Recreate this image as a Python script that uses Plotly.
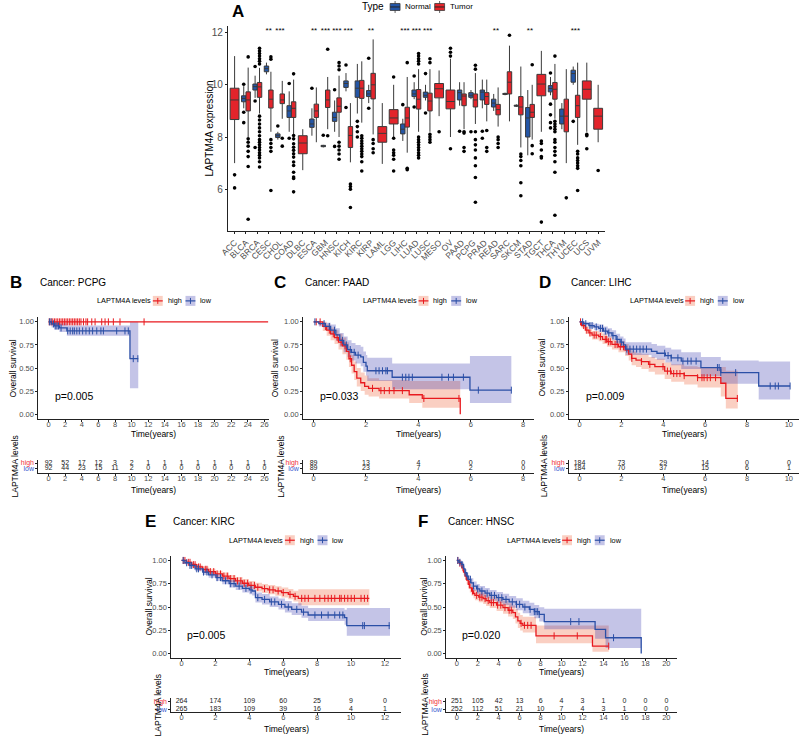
import plotly.graph_objects as go
import numpy as np

W, H = 800, 738
FONT = "Liberation Sans, Arial, sans-serif"

# ======================= Panel A data =======================
cancers = ["ACC", "BLCA", "BRCA", "CESC", "CHOL", "COAD", "DLBC", "ESCA", "GBM", "HNSC", "KICH",
           "KIRC", "KIRP", "LAML", "LGG", "LIHC", "LUAD", "LUSC", "MESO", "OV", "PAAD", "PCPG",
           "PRAD", "READ", "SARC", "SKCM", "STAD", "TGCT", "THCA", "THYM", "UCEC", "UCS", "UVM"]
N = None
normal_lo = [N, 9.1, 9.5, 10.4, 7.9, 8.2, N, 8.05, 7.6, 8.2, 9.75, 8.9, 9.3, N, N, 7.85, 9.45,
             9.4, N, N, 9.2, 9.45, 9.1, 9.0, 9.6, 9.15, 7.3, N, 9.6, 8.3, 10.0, N, N]
normal_q1 = [N, 9.35, 9.8, 10.5, 7.98, 8.75, N, 8.37, 7.63, 8.6, 9.9, 9.52, 9.55, N, N, 8.12, 9.55,
             9.52, N, N, 9.42, 9.52, 9.42, 9.15, 9.63, 9.18, 8.0, N, 9.73, 8.5, 10.1, N, N]
normal_med = [N, 9.48, 9.93, 10.62, 8.05, 9.0, N, 8.5, 7.65, 8.75, 10.05, 9.87, 9.65, N, N, 8.3, 9.65,
              9.6, N, N, 9.7, 9.6, 9.72, 9.3, 9.65, 9.2, 8.73, N, 9.86, 8.8, 10.43, N, N]
normal_q3 = [N, 9.58, 10.03, 10.72, 8.12, 9.2, N, 8.69, 7.68, 8.95, 10.15, 10.15, 9.78, N, N, 8.5, 9.8,
             9.72, N, N, 9.8, 9.7, 9.8, 9.45, 9.67, 9.22, 9.13, N, 9.97, 9.07, 10.56, N, N]
normal_hi = [N, 9.95, 10.35, 10.85, 8.2, 9.75, N, 9.1, 7.7, 9.4, 10.45, 10.8, 10.0, N, N, 8.7, 10.1,
             10.0, N, N, 10.1, 9.8, 10.2, 9.65, 9.7, 9.25, 9.8, N, 10.3, 9.3, 10.7, N, N]
normal_out = [[], [10.02, 8.95, 8.55], [10.7, 9.38, 7.6], [], [8.42], [10.05, 7.95], [], [9.87],
              [8.07], [9.81, 7.64], [10.76, 9.13], [8.6, 8.4, 8.2, 8.0], [11.02, 9.1], [], [], [9.24],
              [10.34, 9.15], [10.43, 8.92], [], [], [8.22], [8.2], [8.22, 7.95], [], [], [], [], [],
              [10.45, 9.26, 8.85, 8.55, 8.35], [], [8.6], [], []]

tumor_lo = [7.0, 8.0, 8.9, 8.2, 8.7, 8.1, 6.73, 7.8, 8.3, 8.0, 7.03, 8.55, 8.1, 6.97, 8.0, 7.4, 8.2,
            8.2, 8.8, 8.0, 8.3, 8.5, 8.6, 8.4, 8.6, 7.6, 7.9, 8.2, 8.7, 7.0, 7.7, 8.2, 7.8]
tumor_q1 = [8.67, 9.0, 9.52, 9.11, 9.28, 8.75, 7.36, 8.75, 9.13, 8.95, 7.6, 9.48, 9.46, 7.8, 8.5, 8.38,
            9.07, 9.0, 9.5, 9.08, 9.2, 9.15, 9.25, 8.85, 9.65, 8.85, 8.75, 9.58, 9.45, 8.2, 8.75, 9.45, 8.3]
tumor_med = [9.42, 9.42, 9.92, 9.45, 9.42, 9.1, 7.77, 9.0, 9.42, 9.18, 8.06, 9.87, 10.0, 8.14, 8.73, 8.73,
             9.45, 9.38, 9.85, 9.36, 9.57, 9.42, 9.55, 9.05, 10.1, 9.15, 8.95, 10.03, 9.83, 8.8, 9.2, 9.83, 8.8]
tumor_q3 = [9.87, 9.73, 10.09, 9.8, 9.65, 9.35, 8.05, 9.26, 9.8, 9.5, 8.4, 10.17, 10.44, 8.4, 9.05, 9.14,
            9.82, 9.68, 10.05, 9.8, 9.65, 9.65, 9.7, 9.25, 10.5, 9.55, 9.25, 10.4, 10.09, 9.45, 9.6, 10.15, 9.1]
tumor_hi = [11.1, 10.66, 10.65, 10.5, 10.15, 10.2, 8.3, 9.9, 10.3, 10.35, 9.3, 10.9, 11.74, 9.3, 10.0, 10.3,
            10.6, 10.6, 10.55, 11.0, 10.1, 10.45, 10.2, 9.9, 11.5, 10.7, 10.0, 11.3, 10.8, 10.6, 10.85, 10.85, 10.0]
tumor_out = [[6.55, 6.05],
             [11.07, 7.93, 7.8, 7.65, 7.45, 7.25, 6.87, 4.85],
             [11.4, 11.3, 11.2, 11.1, 11.0, 10.9, 10.8, 8.8, 8.65, 8.5, 8.35, 8.2, 8.05, 7.9, 7.8, 7.7,
              7.6, 7.5, 7.4, 7.3, 7.2, 7.05, 6.85],
             [11.07, 10.98, 7.9, 7.75, 7.6, 7.45, 5.95],
             [7.95, 7.65],
             [10.42, 8.06, 7.93, 7.74, 7.61, 7.49, 7.36, 7.23, 7.04, 6.91, 6.65, 6.47, 6.41, 5.9],
             [],
             [],
             [11.36, 8.05],
             [10.85, 10.72, 10.58, 7.8, 7.65, 7.5, 7.35, 7.15],
             [6.2, 6.1, 6.0, 5.3],
             [8.05, 7.95, 7.85, 7.75, 7.65, 7.55, 7.45, 7.35, 7.25, 7.05, 6.7],
             [7.9, 7.75, 7.55, 7.4],
             [],
             [10.3, 7.95, 7.5, 7.4, 7.3, 7.15, 6.7],
             [10.85, 6.8, 6.75],
             [11.2, 11.1, 11.0, 10.9, 10.8, 8.0, 7.9, 7.8, 7.7, 7.6, 7.5, 7.4, 7.3, 7.2],
             [11.0, 10.85, 8.1, 8.0, 7.9, 7.8],
             [8.2],
             [11.4, 11.25, 11.1, 7.55],
             [8.2, 8.15, 7.6, 7.45],
             [10.75, 10.6, 8.2, 7.9, 7.7, 7.5, 7.2, 6.9, 6.45, 5.5],
             [8.25, 7.6, 7.45],
             [8.0, 7.9, 7.75, 7.6],
             [11.9],
             [7.35, 7.25, 7.1, 6.9, 6.25, 5.75],
             [10.77, 7.67, 7.36],
             [7.85, 7.75, 7.5, 7.25, 7.2, 4.74],
             [11.1, 8.6, 8.5, 8.4, 8.3, 8.2, 7.9, 7.8, 7.6, 7.45, 7.3, 7.05, 6.65, 5.0],
             [5.67],
             [7.45, 7.35, 7.2, 7.1, 7.0, 6.9, 6.8, 5.95],
             [8.1, 8.05, 7.55],
             [6.72]]
stars = ["", "", "", "**", "***", "", "", "**", "***", "***", "***", "", "**", "", "", "***", "***",
         "***", "", "", "", "", "", "**", "", "", "**", "", "", "", "***", "", ""]
a_yticks = [6, 8, 10, 12]

# ======================= KM data =======================
# ---- PCPG ----
pcpg_high_t = [0]
pcpg_high_s = [1.0]
pcpg_high_lo = [1.0]
pcpg_high_hi = [1.0]
pcpg_high_end = 26.45
pcpg_high_cens = [0.08, 0.3, 0.5, 0.7, 0.9, 1.1, 1.3, 1.5, 1.7, 1.9, 2.1, 2.3, 2.5, 2.7, 2.9, 3.1,
                  3.3, 3.5, 3.7, 3.9, 4.2, 4.5, 4.7, 5.2, 5.6, 6.4, 6.8, 7.2, 7.8, 8.6, 11.5]
pcpg_low_t = [0, 0.35, 0.7, 1.3, 2.2, 9.8]
pcpg_low_s = [1.0, 0.978, 0.956, 0.934, 0.902, 0.601]
pcpg_low_lo = [1.0, 0.94, 0.915, 0.89, 0.85, 0.28]
pcpg_low_hi = [1.0, 1.0, 0.995, 0.985, 0.96, 1.0]
pcpg_low_end = 10.8
pcpg_low_cens = [0.1, 0.3, 0.6, 0.8, 1.0, 1.2, 1.5, 2.3, 2.6, 2.9, 3.1, 3.4, 3.7, 4.1, 4.5, 4.9,
                 5.3, 5.8, 6.3, 6.6, 8.2, 9.2, 9.6, 10.2, 10.75]
pcpg_risk_t = [0, 2, 4, 6, 8, 10, 12, 14, 16, 18, 20, 22, 24, 26]
pcpg_risk_high = [92, 52, 17, 12, 3, 2, 1, 1, 1, 1, 1, 1, 1, 1]
pcpg_risk_low = [92, 44, 23, 15, 11, 2, 0, 0, 0, 0, 0, 0, 0, 0]

# ---- PAAD ----
paad_high_t = [0, 0.35, 0.5, 0.65, 0.8, 0.95, 1.1, 1.25, 1.35, 1.45, 1.55, 1.65, 1.8, 1.95, 2.1, 2.5,
               3.65, 4.15, 5.6]
paad_high_s = [1.0, 0.95, 0.91, 0.87, 0.83, 0.78, 0.74, 0.68, 0.60, 0.53, 0.46, 0.39, 0.34, 0.30, 0.28,
               0.255, 0.21, 0.17, 0.0]
paad_high_lo = [1.0, 0.90, 0.85, 0.80, 0.76, 0.70, 0.65, 0.59, 0.51, 0.44, 0.37, 0.30, 0.25, 0.21, 0.19,
                0.17, 0.12, 0.07, 0.0]
paad_high_hi = [1.0, 1.0, 0.97, 0.94, 0.91, 0.87, 0.83, 0.78, 0.71, 0.64, 0.57, 0.50, 0.45, 0.42, 0.39,
                0.37, 0.36, 0.36, 0.0]
paad_high_end = 5.6
paad_high_cens = [0.1, 0.25, 0.45, 0.6, 0.75, 0.9, 1.05, 1.2, 1.4, 2.25, 2.57, 2.7, 2.89, 3.07, 3.39,
                  4.21, 5.55]
paad_low_t = [0, 0.2, 0.45, 0.65, 0.85, 1.0, 1.15, 1.3, 1.45, 1.6, 1.8, 1.9, 2.0, 2.05, 3.0, 5.97]
paad_low_s = [1.0, 0.98, 0.95, 0.91, 0.86, 0.80, 0.75, 0.70, 0.67, 0.64, 0.62, 0.56, 0.52, 0.47, 0.40, 0.26]
paad_low_lo = [1.0, 0.95, 0.91, 0.86, 0.80, 0.73, 0.67, 0.62, 0.58, 0.55, 0.52, 0.46, 0.42, 0.36, 0.27, 0.12]
paad_low_hi = [1.0, 1.0, 0.99, 0.97, 0.93, 0.88, 0.84, 0.80, 0.77, 0.75, 0.73, 0.68, 0.64, 0.61, 0.55, 0.63]
paad_low_end = 7.55
paad_low_cens = [0.05, 0.4, 0.6, 0.8, 1.1, 1.25, 1.4, 1.55, 1.7, 2.38, 2.5, 2.63, 2.76, 2.82, 3.39, 3.52,
                 3.64, 3.77, 4.9, 5.15, 5.34, 5.72, 6.29, 7.55]
paad_risk_t = [0, 2, 4, 6, 8]
paad_risk_high = [89, 13, 4, 0, 0]
paad_risk_low = [89, 23, 7, 2, 0]

# ---- LIHC ----
lihc_high_t = [0, 0.1, 0.28, 0.45, 0.6, 0.92, 1.1, 1.31, 1.55, 1.86, 2.18, 2.35, 2.49, 2.7, 2.96, 3.3,
               3.6, 4.07, 4.38, 5.0, 5.64, 6.75, 6.99]
lihc_high_s = [1.0, 0.96, 0.91, 0.88, 0.857, 0.84, 0.81, 0.785, 0.755, 0.73, 0.695, 0.65, 0.604, 0.585,
               0.57, 0.54, 0.514, 0.467, 0.44, 0.417, 0.395, 0.335, 0.17]
lihc_high_lo = [1.0, 0.93, 0.87, 0.84, 0.81, 0.79, 0.76, 0.73, 0.70, 0.67, 0.63, 0.58, 0.53, 0.51, 0.49,
                0.46, 0.43, 0.38, 0.35, 0.32, 0.29, 0.19, 0.06]
lihc_high_hi = [1.0, 0.99, 0.95, 0.92, 0.90, 0.89, 0.87, 0.84, 0.81, 0.79, 0.76, 0.72, 0.68, 0.66, 0.65,
                0.62, 0.60, 0.56, 0.54, 0.52, 0.51, 0.51, 0.47]
lihc_high_end = 7.56
lihc_high_cens = [0.05, 0.2, 0.35, 0.5, 0.7, 0.8, 1.0, 1.23, 1.3, 1.38, 1.47, 1.7, 1.8, 1.95, 2.1, 2.5,
                  2.96, 3.36, 3.99, 4.2, 4.35, 4.5, 4.65, 4.8, 5.0, 5.64, 5.85, 5.95, 6.1, 6.25, 6.5, 7.54]
lihc_low_t = [0, 0.2, 0.45, 0.7, 0.92, 1.15, 1.35, 1.55, 1.75, 1.94, 2.1, 2.2, 3.44, 3.7, 4.1, 4.38,
              4.86, 5.8, 6.75, 8.56]
lihc_low_s = [1.0, 0.98, 0.96, 0.945, 0.93, 0.90, 0.88, 0.85, 0.81, 0.78, 0.75, 0.705, 0.68, 0.66, 0.635,
              0.61, 0.575, 0.505, 0.45, 0.305]
lihc_low_lo = [1.0, 0.96, 0.93, 0.91, 0.89, 0.86, 0.83, 0.80, 0.76, 0.72, 0.69, 0.64, 0.61, 0.59, 0.56,
               0.53, 0.49, 0.41, 0.33, 0.16]
lihc_low_hi = [1.0, 1.0, 0.99, 0.98, 0.97, 0.95, 0.93, 0.91, 0.87, 0.84, 0.82, 0.78, 0.76, 0.74, 0.72,
               0.70, 0.67, 0.62, 0.58, 0.57]
lihc_low_end = 10.06
lihc_low_cens = [0.15, 0.3, 0.5, 0.6, 0.8, 1.0, 1.1, 1.25, 1.4, 1.6, 1.8, 2.0, 2.26, 2.41, 2.57, 2.73,
                 2.89, 3.04, 3.2, 4.07, 4.23, 4.38, 4.7, 4.94, 5.17, 5.33, 5.57, 6.59, 6.67, 6.75, 7.46,
                 9.11, 9.35, 9.5, 10.06]
lihc_risk_t = [0, 2, 4, 6, 8, 10]
lihc_risk_high = [184, 73, 29, 14, 0, 0]
lihc_risk_low = [184, 70, 37, 15, 6, 1]

# ---- KIRC ----
kirc_high_t = [0, 0.3, 0.6, 0.9, 1.25, 1.6, 2.0, 2.42, 2.8, 3.19, 3.6, 3.97, 4.35, 4.75, 5.1, 5.53, 5.9,
               6.3, 6.6, 6.89]
kirc_high_s = [1.0, 0.98, 0.955, 0.93, 0.905, 0.88, 0.855, 0.832, 0.805, 0.78, 0.755, 0.732, 0.712, 0.697,
               0.685, 0.672, 0.655, 0.636, 0.615, 0.593]
kirc_high_lo = [1.0, 0.965, 0.935, 0.905, 0.875, 0.848, 0.82, 0.795, 0.765, 0.74, 0.712, 0.688, 0.666,
                0.65, 0.636, 0.622, 0.603, 0.582, 0.558, 0.52]
kirc_high_hi = [1.0, 0.995, 0.975, 0.955, 0.935, 0.912, 0.89, 0.87, 0.845, 0.822, 0.8, 0.778, 0.76, 0.746,
                0.736, 0.724, 0.709, 0.692, 0.674, 0.69]
kirc_high_end = 11.08
kirc_high_cens = [0.1, 0.2, 0.4, 0.5, 0.7, 0.8, 1.0, 1.1, 1.4, 1.5, 1.7, 1.9, 2.1, 2.3, 2.5, 2.7, 2.9,
                  3.1, 3.3, 3.5, 3.7, 3.9, 4.1, 4.3, 4.5, 4.9, 5.2, 5.4, 5.7, 6.0, 6.4, 6.7, 7.09, 7.28,
                  7.48, 7.87, 8.16, 8.45, 8.65, 8.84, 9.04, 9.33, 9.42, 9.62, 9.81, 10.01, 10.2, 10.59,
                  10.79, 10.98]
kirc_low_t = [0, 0.2, 0.47, 0.8, 1.25, 1.6, 2.03, 2.4, 2.81, 3.2, 3.59, 4.0, 4.17, 4.36, 4.75, 5.2, 5.72,
              6.1, 6.5, 7.08, 7.47, 9.62, 9.75]
kirc_low_s = [1.0, 0.975, 0.946, 0.91, 0.875, 0.845, 0.815, 0.782, 0.75, 0.725, 0.70, 0.685, 0.672, 0.60,
              0.582, 0.555, 0.529, 0.50, 0.475, 0.446, 0.414, 0.385, 0.30]
kirc_low_lo = [1.0, 0.96, 0.925, 0.885, 0.845, 0.813, 0.78, 0.745, 0.71, 0.683, 0.655, 0.638, 0.624,
               0.548, 0.528, 0.5, 0.472, 0.442, 0.415, 0.385, 0.35, 0.31, 0.19]
kirc_low_hi = [1.0, 0.99, 0.968, 0.937, 0.905, 0.878, 0.852, 0.822, 0.792, 0.77, 0.748, 0.735, 0.722,
               0.656, 0.64, 0.614, 0.59, 0.564, 0.54, 0.514, 0.49, 0.47, 0.49]
kirc_low_end = 12.3
kirc_low_cens = [0.1, 0.3, 0.5, 0.6, 0.9, 1.0, 1.3, 1.5, 1.8, 2.1, 2.3, 2.6, 2.9, 3.1, 3.4, 3.8, 4.1,
                 4.5, 4.9, 5.3, 5.5, 5.9, 6.3, 6.8, 7.2, 7.87, 8.26, 8.65, 9.04, 9.33, 9.52, 10.69,
                 10.79, 12.25]
kirc_risk_t = [0, 2, 4, 6, 8, 10, 12]
kirc_risk_high = [264, 174, 109, 60, 25, 9, 0]
kirc_risk_low = [265, 183, 109, 39, 16, 4, 1]

# ---- HNSC ----
hnsc_high_t = [0, 0.25, 0.48, 0.65, 0.79, 0.95, 1.1, 1.25, 1.42, 1.6, 1.73, 2.1, 2.52, 2.8, 3.15, 3.8,
               4.41, 4.9, 5.35, 5.6, 5.83, 6.05, 6.3, 7.56, 12.95]
hnsc_high_s = [1.0, 0.97, 0.921, 0.875, 0.832, 0.79, 0.743, 0.705, 0.672, 0.645, 0.625, 0.605, 0.589,
               0.568, 0.547, 0.52, 0.493, 0.465, 0.44, 0.395, 0.35, 0.325, 0.303, 0.19, 0.08]
hnsc_high_lo = [1.0, 0.95, 0.89, 0.84, 0.79, 0.745, 0.695, 0.655, 0.62, 0.593, 0.572, 0.55, 0.533, 0.51,
                0.488, 0.458, 0.428, 0.398, 0.37, 0.322, 0.275, 0.248, 0.225, 0.11, 0.02]
hnsc_high_hi = [1.0, 0.99, 0.955, 0.913, 0.876, 0.837, 0.795, 0.76, 0.728, 0.703, 0.685, 0.667, 0.652,
                0.633, 0.614, 0.59, 0.567, 0.54, 0.517, 0.478, 0.437, 0.415, 0.395, 0.30, 0.30]
hnsc_high_end = 14.5
hnsc_high_cens = [0.1, 0.3, 0.6, 0.9, 1.2, 1.5, 1.9, 2.2, 2.4, 2.7, 3.0, 3.3, 3.5, 3.9, 4.2, 4.6, 5.0,
                  5.2, 6.14, 6.46, 6.77, 7.09, 9.29, 11.5, 14.5]
hnsc_low_t = [0, 0.2, 0.48, 0.65, 0.79, 0.95, 1.1, 1.35, 1.58, 1.9, 2.2, 2.7, 3.15, 3.8, 4.41, 5.0, 5.67,
              6.3, 6.93, 7.4, 7.87, 8.35, 13.2, 14.2, 17.6]
hnsc_low_s = [1.0, 0.98, 0.957, 0.91, 0.868, 0.83, 0.796, 0.76, 0.725, 0.695, 0.672, 0.648, 0.625, 0.60,
              0.582, 0.555, 0.529, 0.50, 0.475, 0.45, 0.421, 0.343, 0.26, 0.17, 0.0]
hnsc_low_lo = [1.0, 0.96, 0.93, 0.875, 0.83, 0.79, 0.75, 0.71, 0.675, 0.643, 0.618, 0.593, 0.568, 0.541,
               0.522, 0.493, 0.465, 0.434, 0.405, 0.378, 0.345, 0.26, 0.16, 0.06, 0.0]
hnsc_low_hi = [1.0, 1.0, 0.985, 0.945, 0.905, 0.87, 0.842, 0.81, 0.775, 0.748, 0.726, 0.703, 0.682, 0.66,
               0.642, 0.617, 0.593, 0.566, 0.545, 0.522, 0.497, 0.48, 0.48, 0.48, 0.0]
hnsc_low_end = 17.6
hnsc_low_cens = [0.1, 0.3, 0.5, 0.8, 1.0, 1.3, 1.6, 2.0, 2.4, 2.9, 3.3, 3.6, 4.0, 4.3, 4.7, 5.3, 5.7,
                 6.0, 6.5, 7.0, 7.4, 7.56, 7.72, 7.87, 10.87, 11.66, 14.96]
hnsc_risk_t = [0, 2, 4, 6, 8, 10, 12, 14, 16, 18, 20]
hnsc_risk_high = [251, 105, 42, 13, 6, 4, 3, 1, 0, 0, 0]
hnsc_risk_low = [252, 112, 51, 21, 10, 7, 4, 3, 1, 0, 0]

# ======================= styling =======================
NORMAL_FILL = "#2456A6"
TUMOR_FILL = "#E3242B"
RED = "#E8191E"
BLUE = "#2B4FA6"
RED_BAND = "rgba(240,110,70,0.33)"
BLUE_BAND = "rgba(60,60,175,0.30)"
AXC = "#222222"
TICKC = "#4D4D4D"


def px(x):
    return x / W


def py(y):
    return 1 - y / H


layout = dict(width=W, height=H, margin=dict(l=0, r=0, t=0, b=0), paper_bgcolor="white",
              plot_bgcolor="white", showlegend=False, font=dict(family=FONT, color="black"))
shapes = []
annotations = []
traces = []
axn = [0]


def axstyle(size, **kw):
    d = dict(showline=True, linecolor=AXC, linewidth=1, ticks="outside", ticklen=2, tickwidth=1,
             tickcolor=AXC, showgrid=False, zeroline=False,
             tickfont=dict(family=FONT, size=size, color=TICKC), fixedrange=True)
    d.update(kw)
    return d


def new_axes(xd, yd, xr, yr, xkw, ykw):
    axn[0] += 1
    n = axn[0]
    s = "" if n == 1 else str(n)
    layout["xaxis" + s] = dict(domain=[px(xd[0]), px(xd[1])], range=xr, anchor="y" + s, **xkw)
    layout["yaxis" + s] = dict(domain=[py(yd[1]), py(yd[0])], range=yr, anchor="x" + s, **ykw)
    return "x" + s, "y" + s


def ann(text, x, y, size, color="black", xanchor="left", yanchor="middle", angle=0, bold=False):
    if bold:
        text = "<b>" + text + "</b>"
    annotations.append(dict(text=text, x=px(x), y=py(y), xref="paper", yref="paper", showarrow=False,
                            xanchor=xanchor, yanchor=yanchor, textangle=angle,
                            font=dict(family=FONT, size=size, color=color)))


def rect(x0, y0, x1, y1, fill, line=None, lw=0.8):
    shapes.append(dict(type="rect", xref="paper", yref="paper", x0=px(x0), x1=px(x1), y0=py(y1), y1=py(y0),
                       fillcolor=fill, line=dict(color=line if line else fill, width=lw if line else 0)))


def seg(x0, y0, x1, y1, color, lw=1):
    shapes.append(dict(type="line", xref="paper", yref="paper", x0=px(x0), x1=px(x1), y0=py(y0), y1=py(y1),
                       line=dict(color=color, width=lw)))


# ======================= Panel A =======================
xa, ya = new_axes((222, 603), (25, 231), [-0.6, 32.6], [4.385, 12.256],
                  axstyle(8.5, tickvals=list(range(len(cancers))), ticktext=cancers, tickangle=-45),
                  axstyle(10, tickvals=a_yticks, ticktext=[str(v) for v in a_yticks]))

pn_x, pn = [], {"lo": [], "q1": [], "med": [], "q3": [], "hi": []}
pt_x, pt = [], {"lo": [], "q1": [], "med": [], "q3": [], "hi": []}
st_x, st = [], {"lo": [], "q1": [], "med": [], "q3": [], "hi": []}
out_x, out_y = [], []
for i, c in enumerate(cancers):
    if normal_med[i] is not None:
        xn, xt = i - 0.195, i + 0.195
        pn_x.append(xn)
        for k, arr in zip(["lo", "q1", "med", "q3", "hi"],
                          [normal_lo, normal_q1, normal_med, normal_q3, normal_hi]):
            pn[k].append(arr[i])
        pt_x.append(xt)
        for k, arr in zip(["lo", "q1", "med", "q3", "hi"], [tumor_lo, tumor_q1, tumor_med, tumor_q3, tumor_hi]):
            pt[k].append(arr[i])
        for v in normal_out[i]:
            out_x.append(xn); out_y.append(v)
    else:
        xt = i
        st_x.append(xt)
        for k, arr in zip(["lo", "q1", "med", "q3", "hi"], [tumor_lo, tumor_q1, tumor_med, tumor_q3, tumor_hi]):
            st[k].append(arr[i])
    for v in tumor_out[i]:
        out_x.append(xt); out_y.append(v)

for xs, d, fill, wdt in [(pn_x, pn, NORMAL_FILL, 0.39), (pt_x, pt, TUMOR_FILL, 0.39), (st_x, st, TUMOR_FILL, 0.78)]:
    traces.append(go.Box(x=xs, q1=d["q1"], median=d["med"], q3=d["q3"], lowerfence=d["lo"],
                         upperfence=d["hi"], width=wdt, fillcolor=fill, whiskerwidth=0,
                         line=dict(color="#3a3a3a", width=1), boxpoints=False, xaxis=xa, yaxis=ya,
                         hoverinfo="skip"))
traces.append(go.Scatter(x=out_x, y=out_y, mode="markers", marker=dict(color="black", size=3.6),
                         xaxis=xa, yaxis=ya, hoverinfo="skip"))
star_x = [i for i, s in enumerate(stars) if s]
star_t = [s for s in stars if s]
traces.append(go.Scatter(x=star_x, y=[12.08] * len(star_x), text=star_t, mode="text",
                         textfont=dict(family=FONT, size=8, color="black"), xaxis=xa, yaxis=ya,
                         hoverinfo="skip"))
ann("A", 232, 11, 17, bold=True, xanchor="center")
ann("LAPTM4A expression", 204, 128, 10, angle=-90, xanchor="center")
# legend A
ann("Type", 382, 6, 10, xanchor="right")
for x0, fill, label in [(386, NORMAL_FILL, "Normal"), (431, TUMOR_FILL, "Tumor")]:
    seg(x0 + 5, 0, x0 + 5, 12, "#3a3a3a", 0.8)
    rect(x0, 2.5, x0 + 10, 9.5, fill, "#3a3a3a", 0.8)
    seg(x0, 6, x0 + 10, 6, "#222", 1)
    ann(label, x0 + 13, 6, 8)


# ======================= KM panels =======================
def surv_at(t, s, c):
    idx = int(np.searchsorted(np.array(t), c, side="right")) - 1
    return s[max(idx, 0)]


def km_panel(letter, name, pval, xd, yd, xr, tick_t, hi_grp, lo_grp, risk_t, risk_h, risk_l,
             tab_yd, tab_yr, title_y, legend_y, legend_x, letter_x, ylab_x, tabtitle_x, pval_xy,
             time_y, risk_tick_y):
    xk, yk = new_axes(xd, yd, xr, [-0.05, 1.05],
                      axstyle(7.5, tickvals=tick_t, ticktext=[str(v) for v in tick_t],
                              ticklabelstandoff=-4),
                      axstyle(7.5, tickvals=[0, 0.25, 0.5, 0.75, 1.0],
                              ticktext=["0.00", "0.25", "0.50", "0.75", "1.00"]))
    for grp, band in [(hi_grp, RED_BAND), (lo_grp, BLUE_BAND)]:
        t, s, lo, hi, end, cens = grp
        xs = list(t) + [end]
        traces.append(go.Scatter(x=xs, y=list(lo) + [lo[-1]], mode="lines", line=dict(width=0, shape="hv"),
                                 xaxis=xk, yaxis=yk, hoverinfo="skip"))
        traces.append(go.Scatter(x=xs, y=list(hi) + [hi[-1]], mode="lines", line=dict(width=0, shape="hv"),
                                 fill="tonexty", fillcolor=band, xaxis=xk, yaxis=yk, hoverinfo="skip"))
    for grp, col in [(hi_grp, RED), (lo_grp, BLUE)]:
        t, s, lo, hi, end, cens = grp
        traces.append(go.Scatter(x=list(t) + [end], y=list(s) + [s[-1]], mode="lines",
                                 line=dict(color=col, width=1.3, shape="hv"), xaxis=xk, yaxis=yk,
                                 hoverinfo="skip"))
        traces.append(go.Scatter(x=cens, y=[surv_at(t, s, c) for c in cens], mode="markers",
                                 marker=dict(symbol="line-ns", size=5, line=dict(color=col, width=1)),
                                 xaxis=xk, yaxis=yk, hoverinfo="skip"))
    # risk table
    xt_, yt_ = new_axes(xd, tab_yd, xr, tab_yr,
                        axstyle(7.5, tickvals=risk_t, ticktext=[str(v) for v in risk_t],
                                ticklabelstandoff=-4),
                        axstyle(7, tickvals=[0, 1],
                                ticktext=['<span style="color:%s">low</span>' % "#3B5BD0",
                                          '<span style="color:%s">high</span>' % "#F0303A"]))
    traces.append(go.Scatter(x=risk_t, y=[1] * len(risk_t), text=[str(v) for v in risk_h], mode="text",
                             textfont=dict(family=FONT, size=7, color="#222"), xaxis=xt_, yaxis=yt_,
                             hoverinfo="skip", cliponaxis=False))
    traces.append(go.Scatter(x=risk_t, y=[0] * len(risk_t), text=[str(v) for v in risk_l], mode="text",
                             textfont=dict(family=FONT, size=7, color="#222"), xaxis=xt_, yaxis=yt_,
                             hoverinfo="skip", cliponaxis=False))
    # texts
    ann(letter, letter_x, title_y, 17, bold=True)
    ann("Cancer: " + name, xd[0], title_y, 10)
    xmid = (xd[0] + xd[1]) / 2
    ann("Time(years)", xmid, time_y, 8.5, xanchor="center")
    ann("Time(years)", xmid, risk_tick_y + 10, 8.5, xanchor="center")
    ann("Overall survival", ylab_x, (yd[0] + yd[1]) / 2, 8.5, angle=-90, xanchor="center")
    ann("LAPTM4A levels", tabtitle_x, (tab_yd[0] + tab_yd[1]) / 2, 8.5, angle=-90, xanchor="center")
    ann(pval, pval_xy[0], pval_xy[1], 10.5)
    # legend
    lx = legend_x
    ann("LAPTM4A levels", lx, legend_y, 7.3)
    kx = lx + 58
    for band, col, lab, w in [(RED_BAND, RED, "high", 14), (BLUE_BAND, BLUE, "low", 12)]:
        rect(kx, legend_y - 5, kx + 10, legend_y + 5, band)
        seg(kx, legend_y, kx + 10, legend_y, col, 1.2)
        seg(kx + 5, legend_y - 3, kx + 5, legend_y + 3, col, 1)
        ann(lab, kx + 13, legend_y, 7.3)
        kx += 13 + w + 6


top_yd = (317.1, 418.9)
bot_yd = (556.3, 659.0)
top_tab = (460.0, 473.7)
bot_tab = (699.0, 712.7)
top_tab_r = [-0.825, 1.58]
bot_tab_r = [-0.34, 1.375]

km_panel("B", "PCPG", "p=0.005", (30.7, 263.3), top_yd, [-1.23, 26.51], pcpg_risk_t,
         (pcpg_high_t, pcpg_high_s, pcpg_high_lo, pcpg_high_hi, pcpg_high_end, pcpg_high_cens),
         (pcpg_low_t, pcpg_low_s, pcpg_low_lo, pcpg_low_hi, pcpg_low_end, pcpg_low_cens),
         pcpg_risk_t, pcpg_risk_high, pcpg_risk_low, top_tab, top_tab_r,
         282, 300.7, 88.3, 0, 5.5, 7, (45, 395.7), 434, 480)
km_panel("C", "PAAD", "p=0.033", (298.1, 530.9), top_yd, [-0.4, 8.4], paad_risk_t,
         (paad_high_t, paad_high_s, paad_high_lo, paad_high_hi, paad_high_end, paad_high_cens),
         (paad_low_t, paad_low_s, paad_low_lo, paad_low_hi, paad_low_end, paad_low_cens),
         paad_risk_t, paad_risk_high, paad_risk_low, top_tab, top_tab_r,
         282, 300.7, 356.7, 267, 270, 275, (313, 395.7), 434, 480)
km_panel("D", "LIHC", "p=0.009", (566.7, 799.3), top_yd, [-0.5, 10.5], lihc_risk_t,
         (lihc_high_t, lihc_high_s, lihc_high_lo, lihc_high_hi, lihc_high_end, lihc_high_cens),
         (lihc_low_t, lihc_low_s, lihc_low_lo, lihc_low_hi, lihc_low_end, lihc_low_cens),
         lihc_risk_t, lihc_risk_high, lihc_risk_low, top_tab, top_tab_r,
         282, 300.7, 626, 534, 539, 541, (581.7, 395.7), 434, 480)
km_panel("E", "KIRC", "p=0.005", (165.0, 397.0), bot_yd, [-0.6, 12.95], kirc_risk_t,
         (kirc_high_t, kirc_high_s, kirc_high_lo, kirc_high_hi, kirc_high_end, kirc_high_cens),
         (kirc_low_t, kirc_low_s, kirc_low_lo, kirc_low_hi, kirc_low_end, kirc_low_cens),
         kirc_risk_t, kirc_risk_high, kirc_risk_low, bot_tab, bot_tab_r,
         522, 540.7, 221.7, 136, 142, 151, (179, 635.7), 673, 720)
km_panel("F", "HNSC", "p=0.020", (442.7, 675.6), bot_yd, [-1.0, 21.0], hnsc_risk_t,
         (hnsc_high_t, hnsc_high_s, hnsc_high_lo, hnsc_high_hi, hnsc_high_end, hnsc_high_cens),
         (hnsc_low_t, hnsc_low_s, hnsc_low_lo, hnsc_low_hi, hnsc_low_end, hnsc_low_cens),
         hnsc_risk_t, hnsc_risk_high, hnsc_risk_low, bot_tab, bot_tab_r,
         522, 540.7, 501.7, 412, 420, 421, (457, 635.7), 673, 720)

layout["shapes"] = shapes
layout["annotations"] = annotations
layout["boxmode"] = "overlay"
fig = go.Figure(data=traces, layout=layout)
fig.write_html("out.html")
